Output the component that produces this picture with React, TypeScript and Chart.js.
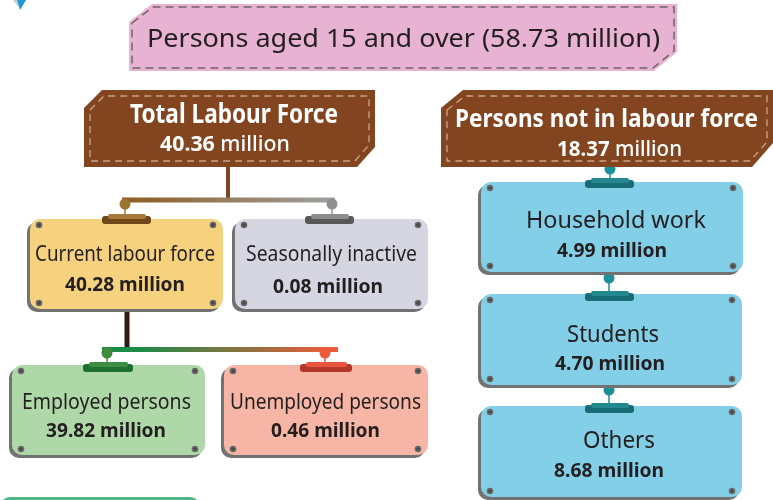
import React, { useEffect, useRef } from "react";
import { Chart, registerables } from "chart.js";

Chart.register(...registerables);

// ---------- data ----------
const nodeNames = [
  "Persons aged 15 and over",
  "Total Labour Force",
  "Persons not in labour force",
  "Current labour force",
  "Seasonally inactive",
  "Employed persons",
  "Unemployed persons",
  "Household work",
  "Students",
  "Others",
];
const nodeValues = [58.73, 40.36, 18.37, 40.28, 0.08, 39.82, 0.46, 4.99, 4.7, 8.68];
const unitLabel = "million";

// ---------- layout (positions / sizes in chart units) ----------
type Box = { l: number; t: number; r: number; b: number };
const boxes: Box[] = [
  { l: 129, t: 4, r: 677, b: 71 },
  { l: 84, t: 90, r: 375, b: 167 },
  { l: 441, t: 90, r: 773, b: 167 },
  { l: 30, t: 219, r: 223, b: 309 },
  { l: 235, t: 219, r: 428, b: 309 },
  { l: 12, t: 365, r: 205, b: 455 },
  { l: 224, t: 365, r: 428, b: 455 },
  { l: 481, t: 182, r: 743, b: 272 },
  { l: 481, t: 294, r: 742, b: 385 },
  { l: 481, t: 406, r: 742, b: 497 },
];
// [cx, baseline, width, size] for name line and value line
const nameText = [
  [403.5, 47, 513, 26],
  [234, 123, 208, 26],
  [606.5, 127, 303, 25],
  [125, 261, 180, 22],
  [331.5, 261, 171, 22],
  [106.5, 409, 169, 22],
  [325.5, 409, 191, 22],
  [616, 228, 180, 23],
  [613, 342, 92, 23],
  [619, 448, 72, 23],
];
const valueText = [
  [0, 0, 0, 0],
  [225, 151, 130, 22],
  [619.5, 156, 125, 22],
  [125, 291, 120, 20],
  [328, 293, 110, 20],
  [106, 437, 120, 20],
  [325.5, 437, 109, 20],
  [612, 257, 110, 20],
  [610, 370, 110, 20],
  [609, 477, 110, 20],
];
const cardColors = ["", "", "", "#f6d27e", "#d6d6e2", "#afd8a8", "#f6b5a5", "#83cfe7", "#83cfe7", "#83cfe7"];
const tabs = [
  // [l, r, top, bottom, dark, light, pinX, pinY, pinColor]
  { l: 102, r: 151, t: 216, b: 224, dark: "#6f4718", light: "#a67a3c", px: 125, py: 204, pc: "#9b7430" },
  { l: 305, r: 354, t: 216, b: 224, dark: "#585858", light: "#8d8d8d", px: 332, py: 204, pc: "#8f8f8f" },
  { l: 83, r: 133, t: 364, b: 372, dark: "#1f6e31", light: "#3d8d42", px: 107, py: 353, pc: "#3f8c3c" },
  { l: 300, r: 352, t: 364, b: 372, dark: "#b3382a", light: "#e9563c", px: 325, py: 353, pc: "#ee5a3a" },
  { l: 585, r: 634, t: 180, b: 188, dark: "#176c75", light: "#24898f", px: 610, py: 169, pc: "#1b9098" },
  { l: 585, r: 634, t: 293, b: 301, dark: "#176c75", light: "#24898f", px: 609, py: 278, pc: "#1b9098" },
  { l: 585, r: 634, t: 405, b: 413, dark: "#176c75", light: "#24898f", px: 609, py: 390, pc: "#1b9098" },
];

const FAMILY = "'Noto Sans', 'DejaVu Sans', sans-serif";

const infographic = {
  id: "infographic",
  afterDraw(chart: any) {
    const ctx: CanvasRenderingContext2D = chart.ctx;
    const xs = chart.scales.x;
    const ys = chart.scales.y;
    const X = (v: number) => xs.getPixelForValue(v);
    const Y = (v: number) => ys.getPixelForValue(v);

    const fitText = (
      parts: { text: string; weight: string }[],
      cx: number,
      base: number,
      width: number,
      size: number,
      color: string
    ) => {
      const ws: number[] = [];
      let total = 0;
      parts.forEach((p) => {
        ctx.font = `${p.weight} ${size}px ${FAMILY}`;
        const w = ctx.measureText(p.text).width;
        ws.push(w);
        total += w;
      });
      const pw = X(cx + width / 2) - X(cx - width / 2);
      ctx.save();
      ctx.translate(X(cx) - pw / 2, Y(base));
      ctx.scale(pw / total, 1);
      ctx.fillStyle = color;
      ctx.textAlign = "left";
      ctx.textBaseline = "alphabetic";
      let x = 0;
      parts.forEach((p, i) => {
        ctx.font = `${p.weight} ${size}px ${FAMILY}`;
        ctx.fillText(p.text, x, 0);
        x += ws[i];
      });
      ctx.restore();
    };

    const chamferPath = (b: Box, tl: number[], br: number[], inset: number) => {
      const l = X(b.l) + inset, t = Y(b.t) + inset, r = X(b.r) - inset, bt = Y(b.b) - inset;
      ctx.beginPath();
      ctx.moveTo(l, t + tl[1]);
      ctx.lineTo(l + tl[0], t);
      ctx.lineTo(r, t);
      ctx.lineTo(r, bt - br[1]);
      ctx.lineTo(r - br[0], bt);
      ctx.lineTo(l, bt);
      ctx.closePath();
    };

    const line = (x1: number, y1: number, x2: number, y2: number, w: number, color: any) => {
      ctx.beginPath();
      ctx.moveTo(X(x1), Y(y1));
      ctx.lineTo(X(x2), Y(y2));
      ctx.lineWidth = w;
      ctx.strokeStyle = color;
      ctx.lineCap = "butt";
      ctx.stroke();
    };

    // decorative corner triangle
    ctx.fillStyle = "#cfcfcf";
    ctx.beginPath();
    ctx.moveTo(X(13), Y(0)); ctx.lineTo(X(17), Y(0)); ctx.lineTo(X(19), Y(8)); ctx.closePath(); ctx.fill();
    ctx.fillStyle = "#1b9ad6";
    ctx.beginPath();
    ctx.moveTo(X(17), Y(0)); ctx.lineTo(X(26), Y(0)); ctx.lineTo(X(20), Y(10)); ctx.closePath(); ctx.fill();

    // ---------- connectors ----------
    line(228, 167, 228, 200, 4, "#7f4520");
    let g = ctx.createLinearGradient(X(125), 0, X(332), 0);
    g.addColorStop(0, "#8d5d22");
    g.addColorStop(1, "#a0a0a0");
    line(122, 200, 335, 200, 5, g);
    line(127, 309, 127, 349, 5, "#2e1b12");
    g = ctx.createLinearGradient(X(102), 0, X(338), 0);
    g.addColorStop(0, "#1a8c47");
    g.addColorStop(0.15, "#1a8c47");
    g.addColorStop(1, "#f25b39");
    line(102, 349.5, 338, 349.5, 5, g);

    // pins + stems
    tabs.forEach((tb) => {
      line(tb.px, tb.py, tb.px, tb.t, 1.5, tb.pc);
      ctx.beginPath();
      ctx.arc(X(tb.px), Y(tb.py), 5.5, 0, Math.PI * 2);
      ctx.fillStyle = tb.pc;
      ctx.fill();
    });

    // ---------- title box ----------
    chamferPath(boxes[0], [23, 18], [23, 19], 0);
    ctx.fillStyle = "#e8b3d3";
    ctx.fill();
    chamferPath(boxes[0], [21, 16], [21, 17], 3);
    ctx.setLineDash([8, 5]);
    ctx.lineWidth = 1.5;
    ctx.strokeStyle = "#6e6468";
    ctx.stroke();
    ctx.setLineDash([]);
    fitText(
      [{ text: `${nodeNames[0]} (${nodeValues[0].toFixed(2)} ${unitLabel})`, weight: "400" }],
      nameText[0][0], nameText[0][1], nameText[0][2], nameText[0][3], "#231f20"
    );

    // ---------- brown header boxes ----------
    const headers = [
      { i: 1, tl: [18, 18], br: [18, 20], itl: [14, 14], ibr: [14, 16] },
      { i: 2, tl: [22, 18], br: [21, 24], itl: [18, 14], ibr: [17, 19] },
    ];
    headers.forEach((h) => {
      chamferPath(boxes[h.i], h.tl, h.br, 0);
      ctx.fillStyle = "#82451f";
      ctx.fill();
      chamferPath(boxes[h.i], h.itl, h.ibr, 6);
      ctx.setLineDash([7, 5]);
      ctx.lineWidth = 1.3;
      ctx.strokeStyle = "#c9a58c";
      ctx.stroke();
      ctx.setLineDash([]);
      const nt = nameText[h.i];
      fitText([{ text: nodeNames[h.i], weight: "700" }], nt[0], nt[1], nt[2], nt[3], "#ffffff");
      const vt = valueText[h.i];
      fitText(
        [
          { text: nodeValues[h.i].toFixed(2), weight: "700" },
          { text: ` ${unitLabel}`, weight: "500" },
        ],
        vt[0], vt[1], vt[2], vt[3], "#ffffff"
      );
    });

    // ---------- cards ----------
    for (let i = 3; i < nodeNames.length; i++) {
      const b = boxes[i];
      const l = X(b.l), t = Y(b.t), w = X(b.r) - X(b.l), hgt = Y(b.b) - Y(b.t);
      ctx.beginPath();
      ctx.roundRect(l - 3, t + 3, w, hgt, 10);
      ctx.fillStyle = "#727272";
      ctx.fill();
      ctx.beginPath();
      ctx.roundRect(l, t, w, hgt, 10);
      ctx.fillStyle = cardColors[i];
      ctx.fill();
      // screws
      const sc = [
        [b.l + 9, b.t + 6],
        [b.r - 10, b.t + 6],
        [b.l + 9, b.b - 6],
        [b.r - 10, b.b - 6],
      ];
      sc.forEach(([sx, sy]) => {
        ctx.beginPath();
        ctx.arc(X(sx), Y(sy), 3.3, 0, Math.PI * 2);
        ctx.fillStyle = "#6c6c6c";
        ctx.fill();
        ctx.beginPath();
        ctx.moveTo(X(sx) - 2.2, Y(sy)); ctx.lineTo(X(sx) + 2.2, Y(sy));
        ctx.moveTo(X(sx), Y(sy) - 2.2); ctx.lineTo(X(sx), Y(sy) + 2.2);
        ctx.lineWidth = 1;
        ctx.strokeStyle = "#3f3f3f";
        ctx.stroke();
      });
      const nt = nameText[i];
      fitText([{ text: nodeNames[i], weight: "400" }], nt[0], nt[1], nt[2], nt[3], "#231f20");
      const vt = valueText[i];
      fitText(
        [{ text: `${nodeValues[i].toFixed(2)} ${unitLabel}`, weight: "700" }],
        vt[0], vt[1], vt[2], vt[3], "#231f20"
      );
    }

    // ---------- tabs ----------
    tabs.forEach((tb) => {
      ctx.beginPath();
      ctx.roundRect(X(tb.l), Y(tb.t), X(tb.r) - X(tb.l), Y(tb.b) - Y(tb.t), 3);
      ctx.fillStyle = tb.dark;
      ctx.fill();
      ctx.beginPath();
      ctx.roundRect(X(tb.l + 6), Y(tb.t - 2), X(tb.r - 5) - X(tb.l + 6), 5, 2);
      ctx.fillStyle = tb.light;
      ctx.fill();
    });

    // partial card at bottom
    ctx.beginPath();
    ctx.roundRect(X(0), Y(497), X(200) - X(0), 30, 10);
    ctx.fillStyle = "#4db883";
    ctx.fill();
  },
};

export default function App() {
  const ref = useRef<HTMLCanvasElement | null>(null);
  useEffect(() => {
    if (!ref.current) return;
    const chart = new Chart(ref.current, {
      type: "scatter",
      data: {
        datasets: [
          {
            label: "nodes",
            data: nodeValues.map((v, i) => ({
              x: (boxes[i].l + boxes[i].r) / 2,
              y: (boxes[i].t + boxes[i].b) / 2,
            })),
            pointRadius: 0,
          },
        ],
      },
      options: {
        responsive: false,
        animation: false,
        events: [],
        layout: { padding: 0 },
        plugins: { legend: { display: false }, tooltip: { enabled: false } },
        scales: {
          x: { type: "linear", min: 0, max: 773, display: false },
          y: { type: "linear", min: 0, max: 500, reverse: true, display: false },
        },
      },
      plugins: [infographic],
    });
    return () => chart.destroy();
  }, []);
  return (
    <div style={{ position: "absolute", left: 0, top: 0, width: 773, height: 500, background: "#ffffff" }}>
      <canvas ref={ref} width={773} height={500} style={{ display: "block" }} />
    </div>
  );
}
